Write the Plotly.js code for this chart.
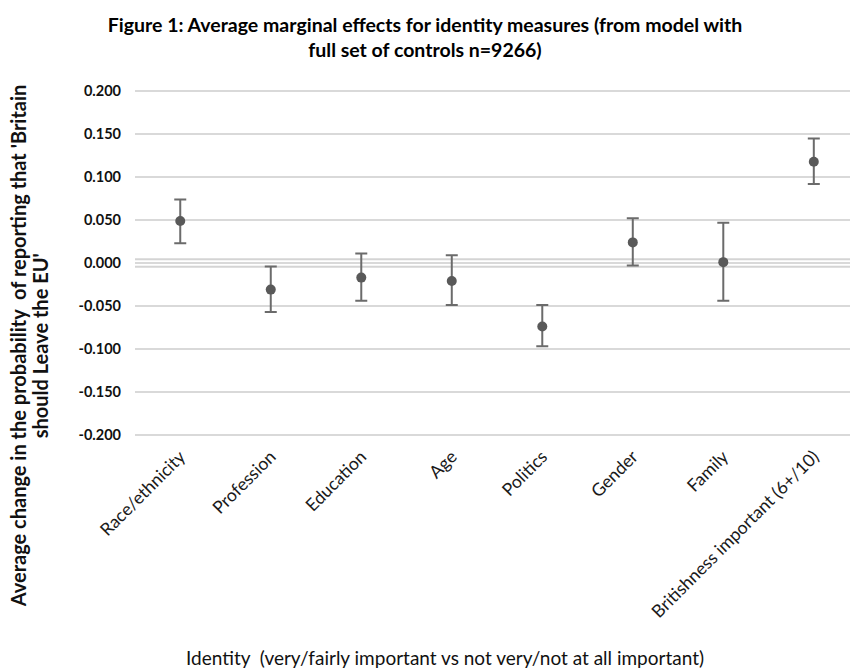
<!DOCTYPE html>
<html>
<head>
<meta charset="utf-8">
<script src="https://cdn.plot.ly/plotly-3.0.1.min.js"></script>
<style>html,body{margin:0;padding:0;background:#fff;}#chart{width:850px;height:668px;}</style>
</head>
<body>
<div id="chart"></div>
<script>
var categories = ["Race/ethnicity", "Profession", "Education", "Age", "Politics", "Gender", "Family", "Britishness important (6+/10)"];
var effects = [0.049, -0.031, -0.017, -0.021, -0.074, 0.024, 0.001, 0.118];
var upperCI = [0.074, -0.004, 0.011, 0.009, -0.049, 0.052, 0.047, 0.145];
var lowerCI = [0.023, -0.057, -0.044, -0.049, -0.097, -0.003, -0.044, 0.092];
var yTicks = [-0.2, -0.15, -0.1, -0.05, 0, 0.05, 0.1, 0.15, 0.2];
var yTickLabels = ["-0.200", "-0.150", "-0.100", "-0.050", "0.000", "0.050", "0.100", "0.150", "0.200"];

var plus = effects.map(function(v, i){ return upperCI[i] - v; });
var minus = effects.map(function(v, i){ return v - lowerCI[i]; });

var FONT = "Lato, 'Liberation Sans', sans-serif";

var trace = {
  type: "scatter",
  mode: "markers",
  x: categories,
  y: effects,
  marker: {color: "#595959", size: 10},
  error_y: {type: "data", symmetric: false, array: plus, arrayminus: minus,
            color: "#6b6b6b", thickness: 2, width: 6},
  showlegend: false,
  hoverinfo: "x+y"
};

var layout = {
  width: 850, height: 668,
  margin: {l: 135, r: 0, t: 87, b: 229},
  paper_bgcolor: "#ffffff", plot_bgcolor: "#ffffff",
  font: {family: FONT, color: "#000"},
  title: {
    text: "<b>Figure 1: Average marginal effects for identity measures (from model with<br>full set of controls n=9266)</b>",
    font: {family: FONT, size: 19.5, color: "#000"},
    x: 0.5, xanchor: "center", y: 0.952, yanchor: "middle"
  },
  xaxis: {
    type: "category",
    range: [-0.5, 7.4],
    showgrid: false, zeroline: false, showline: false,
    ticks: "",
    tickangle: -45,
    ticklabelstandoff: 3,
    tickfont: {family: FONT, size: 17.6, color: "#1a1a1a"}
  },
  yaxis: {
    range: [-0.205, 0.205],
    tickvals: yTicks, ticktext: yTickLabels,
    showgrid: true, gridcolor: "#d9d9d9", gridwidth: 2,
    zeroline: false, showline: false, ticks: "",
    ticklabelstandoff: 13,
    tickfont: {family: FONT, size: 14.5, color: "#111", weight: "bold"}
  },
  shapes: [
    {type: "line", xref: "paper", x0: 0, x1: 1, yref: "y", y0: 0.0045, y1: 0.0045, line: {color: "#d4d4d4", width: 2}, layer: "below"},
    {type: "line", xref: "paper", x0: 0, x1: 1, yref: "y", y0: -0.0045, y1: -0.0045, line: {color: "#d4d4d4", width: 2}, layer: "below"}
  ],
  annotations: [
    {text: "<b>Average change in the probability  of reporting that 'Britain</b>",
     xref: "paper", yref: "paper", x: -0.1632, y: 0.2642, xanchor: "center", yanchor: "middle",
     textangle: -90, showarrow: false, font: {family: FONT, size: 20, color: "#111"}},
    {text: "<b>should Leave the EU'</b>",
     xref: "paper", yref: "paper", x: -0.1324, y: 0.2642, xanchor: "center", yanchor: "middle",
     textangle: -90, showarrow: false, font: {family: FONT, size: 20, color: "#111"}},
    {text: "Identity  (very/fairly important vs not very/not at all important)",
     xref: "paper", yref: "paper", x: 0.4336, y: -0.622, xanchor: "center", yanchor: "middle",
     showarrow: false, font: {family: FONT, size: 19, color: "#111"}}
  ]
};

Plotly.newPlot("chart", [trace], layout, {displayModeBar: false, staticPlot: true});
</script>
</body>
</html>
